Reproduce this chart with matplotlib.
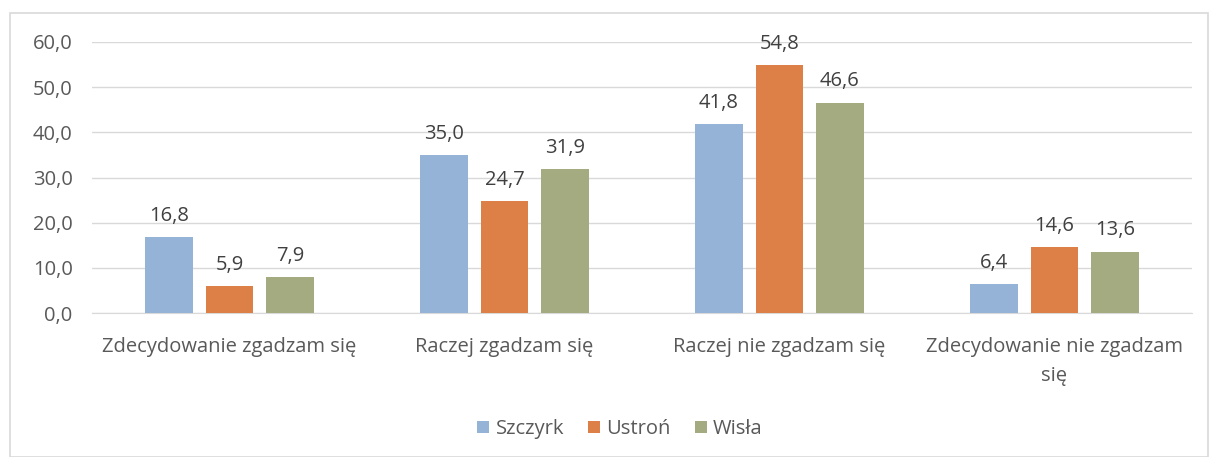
import matplotlib
matplotlib.use("Agg")
import matplotlib.pyplot as plt
import numpy as np
from matplotlib.patches import Rectangle

categories = ["Zdecydowanie zgadzam się", "Raczej zgadzam się", "Raczej nie zgadzam się", "Zdecydowanie nie zgadzam\nsię"]
series = ["Szczyrk", "Ustroń", "Wisła"]
szczyrk = [16.8, 35.0, 41.8, 6.4]
ustron = [5.9, 24.7, 54.8, 14.6]
wisla = [7.9, 31.9, 46.6, 13.6]
yticks = [0, 10, 20, 30, 40, 50, 60]

colors = ["#95B3D7", "#DD8047", "#A5AB81"]
plt.rcParams['font.family'] = ['Open Sans', 'DejaVu Sans']

fig = plt.figure(figsize=(12.09, 4.57), dpi=100)
fig.patches.append(Rectangle((10/1209, 0), 1 - 10/1209 - 0.0005, 1 - 13/457, transform=fig.transFigure,
                             fill=False, edgecolor="#d9d9d9", linewidth=1.2, zorder=0))
ax = fig.add_axes([92/1209, 1 - 313/457, 1100/1209, 271/457])

x = np.arange(len(categories))
w = 0.172
step = 0.22
vals = [szczyrk, ustron, wisla]
for i, (name, v, c) in enumerate(zip(series, vals, colors)):
    pos = x + (i - 1) * step
    bars = ax.bar(pos, v, width=w, color=c, label=name, zorder=3)
    for b, val in zip(bars, v):
        ax.text(b.get_x() + b.get_width()/2, val + 2.5, f"{val:.1f}".replace(".", ","),
                ha="center", va="bottom", fontsize=14.5, color="#404040", clip_on=False)

ax.set_xlim(-0.5, 3.5)
ax.set_ylim(0, 60)
ax.set_yticks(yticks)
ax.set_yticklabels([f"{t:.1f}".replace(".", ",") for t in yticks], fontsize=14.5, color="#595959")
ax.set_xticks(x)
ax.set_xticklabels(categories, fontsize=14.5, color="#595959", linespacing=1.65, va="top")
ax.tick_params(axis="both", length=0)
ax.tick_params(axis="y", pad=14)
ax.tick_params(axis="x", pad=17)
ax.grid(axis="y", color="#d9d9d9", linewidth=1, zorder=0)
for s in ["top", "right", "left"]:
    ax.spines[s].set_visible(False)
ax.spines["bottom"].set_color("#d9d9d9")

fig.legend(loc="center", bbox_to_anchor=(620/1209, 1 - 429/457), ncol=3, frameon=False,
           fontsize=14.5, handlelength=0.6, handleheight=0.6, handletextpad=0.3, columnspacing=1.2,
           labelcolor="#595959")

fig.savefig("out.png", dpi=100)
